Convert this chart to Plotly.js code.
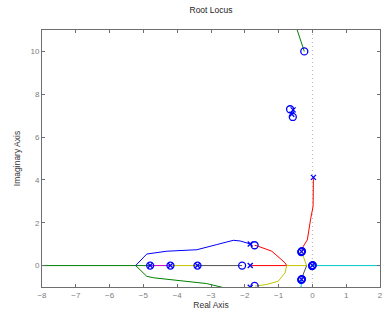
<!DOCTYPE html>
<html>
<head>
<meta charset="utf-8">
<script src="https://cdn.plot.ly/plotly-3.0.1.min.js"></script>
<style>html,body{margin:0;padding:0;background:#fff}#chart{width:384px;height:311px}</style>
</head>
<body>
<div id="chart"></div>
<script>
// Axis ranges and ticks
const xRange = [-8, 2];
const yRange = [-1, 11];
const xTicks = [-8, -7, -6, -5, -4, -3, -2, -1, 0, 1, 2];
const yTicks = [0, 2, 4, 6, 8, 10];

// Root locus branches
const greenRealX = [-8, -5.23, -4.8];
const greenRealY = [0, 0, 0];
const greenLowerX = [-5.23, -4.9, -4.7, -3.72, -3.13, -2.68, -2.4];
const greenLowerY = [0, -0.5, -0.57, -0.73, -0.84, -1.01, -1.1];
const blueUpperX = [-5.23, -4.9, -4.31, -3.42, -2.83, -2.34, -2.14, -1.84];
const blueUpperY = [0, 0.54, 0.67, 0.74, 0.98, 1.18, 1.15, 1.01];
const magentaX = [-4.8, -4.2];
const magentaY = [0, 0];
const yellowRealX = [-4.2, -3.4];
const yellowRealY = [0, 0];
const grayRealX = [-3.4, -2.08];
const grayRealY = [0, 0];
const redCurveX = [-1.71, -1.6, -1.2, -0.96, -0.81, -0.76, null, -1.84, -0.76];
const redCurveY = [0.95, 0.9, 0.67, 0.36, 0.13, 0, null, 0, 0];
const yellowCurveX = [-1.7, -1.35, -1.01, -0.81, -0.76, -0.17, -0.32];
const yellowCurveY = [-0.96, -0.88, -0.73, -0.34, 0, 0, 0.64];
const grayNearX = [-0.17, -0.32];
const grayNearY = [0, -0.6];
const cyanX = [0, 2, null, -0.32, -0.34];
const cyanY = [0, 0, null, -0.65, -1.1];
const redUpperX = [0.03, 0.03, 0.02, -0.05, -0.12, -0.15, -0.27, -0.32];
const redUpperY = [4.12, 3.5, 2.76, 2.2, 1.5, 1.2, 0.9, 0.65];
const greenTopX = [-0.24, -0.47];
const greenTopY = [10, 11.1];

// Poles and zeros
const zerosX = [-0.24, -0.66, -0.58, -1.71, -1.71, -2.08, -4.8, -4.2, -3.4, -0.32, -0.31, -0.33, -0.32, -0.31, -0.33, 0, 0.01, -0.01];
const zerosY = [10, 7.3, 6.94, 0.95, -0.95, 0, 0, 0, 0, 0.65, 0.67, 0.63, -0.65, -0.63, -0.67, 0, 0.02, -0.02];
const polesX = [-0.57, -0.61, 0.03, -1.84, -1.84, -1.84, -4.8, -4.2, -3.4, -0.32, -0.32, 0];
const polesY = [7.27, 7.07, 4.12, 1.01, -1.01, 0, 0, 0, 0, 0.65, -0.65, 0];

// Imaginary axis (dotted)
const imagAxisX = [0, 0];
const imagAxisY = yRange;

const C = {
  blue: '#0000ff', green: '#008000', red: '#ff0000', cyan: '#00c8c8',
  magenta: '#bf00bf', yellow: '#c4c400', gray: '#505050'
};
function line(x, y, color) {
  return {x: x, y: y, type: 'scatter', mode: 'lines', line: {color: color, width: 1}, hoverinfo: 'skip', showlegend: false};
}
const traces = [
  {x: imagAxisX, y: imagAxisY, type: 'scatter', mode: 'lines', line: {color: '#b4b4b4', width: 1, dash: '1px,3px'}, showlegend: false},
  line(greenRealX, greenRealY, C.green),
  line(greenLowerX, greenLowerY, C.green),
  line(blueUpperX, blueUpperY, C.blue),
  line(magentaX, magentaY, C.magenta),
  line(yellowRealX, yellowRealY, C.yellow),
  line(grayRealX, grayRealY, C.gray),
  line(redCurveX, redCurveY, C.red),
  line(yellowCurveX, yellowCurveY, C.yellow),
  line(grayNearX, grayNearY, C.gray),
  line(cyanX, cyanY, C.cyan),
  line(redUpperX, redUpperY, C.red),
  line(greenTopX, greenTopY, C.green),
  {x: zerosX, y: zerosY, type: 'scatter', mode: 'markers', showlegend: false,
   marker: {symbol: 'circle-open', size: 7, color: C.blue, line: {width: 1.3, color: C.blue}}},
  {x: polesX, y: polesY, type: 'scatter', mode: 'markers', showlegend: false,
   marker: {symbol: 'x-thin-open', size: 5, color: C.blue, line: {width: 1.3, color: C.blue}}}
];

const axisCommon = {
  showline: true, linecolor: '#6e6e6e', linewidth: 1, mirror: 'allticks',
  ticks: 'inside', ticklen: 3, tickcolor: '#6e6e6e', tickwidth: 1,
  showgrid: false, zeroline: false, tickmode: 'array',
  tickfont: {family: 'Liberation Sans, Arial, sans-serif', size: 8, color: '#808080'}
};
const layout = {
  width: 384, height: 311,
  margin: {l: 42, r: 4, t: 30, b: 24},
  paper_bgcolor: '#ffffff', plot_bgcolor: '#ffffff',
  font: {family: 'Liberation Sans, Arial, sans-serif', size: 8.5, color: '#333'},
  title: {text: 'Root Locus', font: {size: 8.5, color: '#222'}, x: 0.5, xref: 'paper', y: 1 - 10.5/311, yref: 'container', yanchor: 'middle'},
  xaxis: Object.assign({}, axisCommon, {range: xRange, tickvals: xTicks,
    title: {text: 'Real Axis', font: {size: 8.5, color: '#333'}, standoff: 2}}),
  yaxis: Object.assign({}, axisCommon, {range: yRange, tickvals: yTicks,
    title: {text: 'Imaginary Axis', font: {size: 8.5, color: '#333'}, standoff: 8}}),
  showlegend: false
};
Plotly.newPlot('chart', traces, layout, {displayModeBar: false, staticPlot: true});
</script>
</body>
</html>
